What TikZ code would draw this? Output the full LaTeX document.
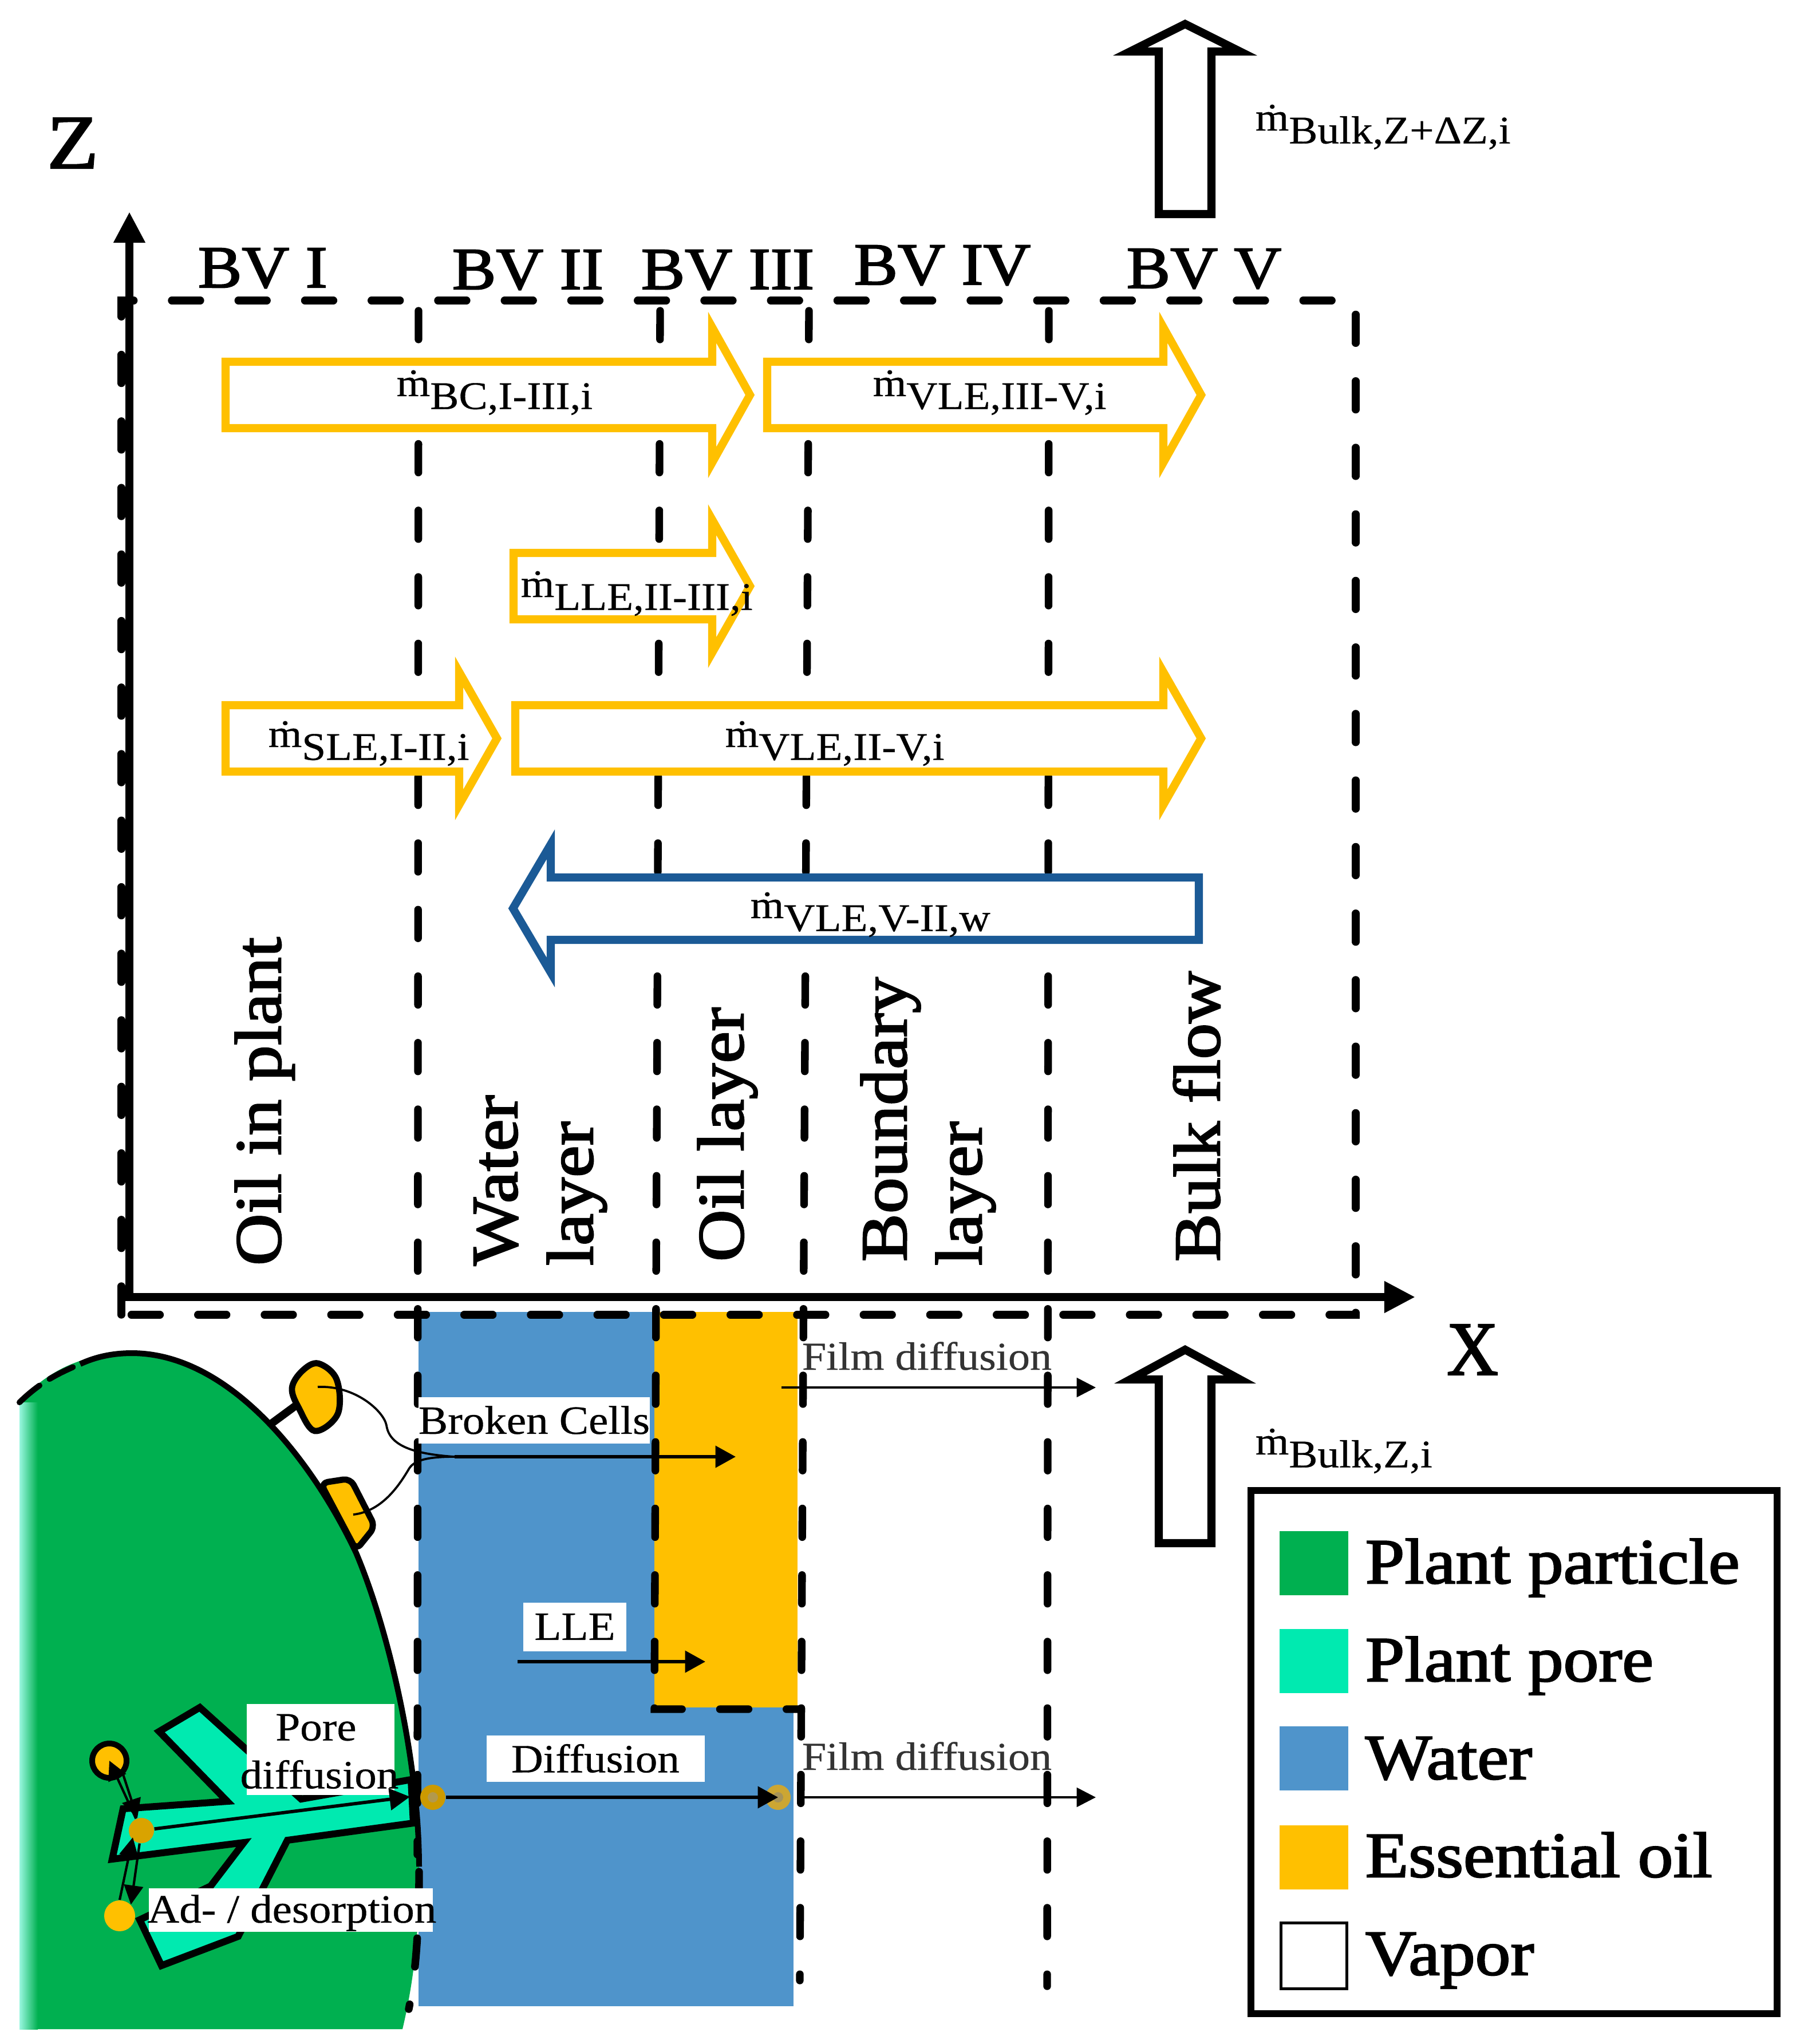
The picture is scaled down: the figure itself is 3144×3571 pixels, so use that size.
\documentclass[tikz,border=0pt]{standalone}
\usepackage{fontspec}
\setmainfont[FakeStretch=1.1,FakeBold=0.5]{Liberation Serif}
\newfontfamily\heavy[FakeStretch=1.1,FakeBold=2.2]{Liberation Serif}
\usetikzlibrary{arrows.meta,calc}
\definecolor{oil}{HTML}{FFC000}
\definecolor{water}{HTML}{4F94CB}
\definecolor{plant}{HTML}{00B050}
\definecolor{pore}{HTML}{00EAB0}
\definecolor{wblue}{HTML}{1B5A96}
\newcommand\mdot[1]{ṁ\lower5.4pt\hbox{#1}}
\tikzset{
  x=0.24pt,y=-0.24pt,
  axisline/.style={line width=3.3pt,-{Triangle[length=13pt,width=12.5pt]}},
  dashbox/.style={line width=3.2pt,line cap=round,dash pattern=on 12pt off 15.9pt,black},
  blockarrow/.style={line width=3.4pt,miter limit=10,fill=white},
  yarrow/.style={blockarrow,draw=oil},
  massflow/.style={anchor=base west,inner sep=0pt,font=\fontsize{16.4}{18}\selectfont},
  bvlabel/.style={anchor=base,inner sep=0pt,font=\heavy\fontsize{25}{28}\selectfont},
  vertlabel/.style={rotate=90,anchor=base west,inner sep=0pt,font=\heavy\fontsize{27.5}{30}\selectfont},
  axisname/.style={inner sep=0pt,font=\heavy\fontsize{32}{34}\selectfont},
  whitebox/.style={fill=white,inner sep=0pt,font=\fontsize{16.8}{18}\selectfont},
  labeltext/.style={inner sep=0pt,font=\fontsize{16.8}{18}\selectfont},
  filmtext/.style={anchor=base west,inner sep=0pt,text=black!80,font=\fontsize{16.6}{18}\selectfont},
  flow/.style={line width=1.4pt,-{Triangle[length=8.5pt,width=9pt]}},
  thinflow/.style={line width=1pt,-{Triangle[length=8pt,width=8pt]}},
  swatch/.style={minimum width=28.8pt,minimum height=27pt,inner sep=0pt},
  legtext/.style={anchor=base west,inner sep=0pt,font=\heavy\fontsize{26.9}{28}\selectfont},
}
\begin{document}
\begin{tikzpicture}
\useasboundingbox (0,0) rectangle (3144,3571);

% water and oil regions
\fill[water] (731,2292) rectangle (1386,3505);
\fill[oil] (1143,2292) rectangle (1393,2983);

% plant particle
\fill[plant] (38,2444) .. controls (90,2390) and (150,2364) .. (230,2364)
  .. controls (400,2364) and (545,2550) .. (622,2713)
  .. controls (680,2850) and (732,3080) .. (732,3261)
  .. controls (732,3350) and (728,3440) .. (703,3545)
  -- (38,3545) -- cycle;
\shade[left color=pore!40!white,right color=plant] (34,2450) rectangle (66,3545);
\fill[plant] (66,2440) rectangle (90,3545);

% glands
\draw[line width=3.3pt] (470,2490) -- (527,2448);
\draw[line width=2.6pt,fill=oil] plot[smooth cycle,tension=0.6] coordinates {(528,2395) (556,2382) (588,2410) (590,2470) (550,2500) (522,2460) (510,2425)};
\draw[line width=2.6pt,fill=oil,rounded corners=3pt,line join=round] (560,2591) -- (612,2583) -- (655,2667) -- (622,2708) -- cycle;

% particle outline
\draw[line width=2.4pt] (140,2383) .. controls (168,2370) and (198,2364) .. (230,2364)
  .. controls (400,2364) and (545,2550) .. (622,2713)
  .. controls (680,2850) and (732,3080) .. (732,3261);
\draw[line width=2.4pt,line cap=round,dash pattern=on 11pt off 5pt] (34,2450) .. controls (70,2415) and (100,2400) .. (140,2383);
\draw[dashbox] (732,3270) .. controls (732,3350) and (728,3440) .. (714,3510);

% pore
\draw[line width=2.9pt,fill=pore,line join=miter] (196,3248) -- (215,3160) -- (397,3147) -- (278,3025) -- (349,2983) -- (526,3143) -- (718,3109) -- (722,3185) -- (502,3215) -- (416,3383) -- (282,3434) -- (244,3354) -- (368,3295) -- (426,3219) -- cycle;

% dashed control volumes
\draw[dashbox] (212,2297) -- (212,525) -- (2368,525) -- (2368,2297) -- (212,2297);
\draw[dashbox] (731,543) -- (729,3240);
\draw[dashbox] (1153,543) -- (1143,2986) -- (1397,2986);
\draw[dashbox] (1413,543) -- (1397,3460);
\draw[dashbox] (1832,543) -- (1829,3470);

% axes
\coordinate (zorigin) at (226,2273);
\coordinate (ztip) at (226,370);
\coordinate (xorigin) at (206,2266);
\coordinate (xtip) at (2472,2266);
\draw[axisline] (zorigin) -- (ztip);
\draw[axisline] (xorigin) -- (xtip);
\node[axisname] (zlabel) at (127,250) {Z};
\node[axisname] (xlabel) at (2572,2358) {\scalebox{0.85}[1]{X}};

% BV headings
\node[bvlabel] (bv1) at (459,502) {BV I};
\node[bvlabel] (bv2) at (922,505) {BV II};
\node[bvlabel] (bv3) at (1271,505) {BV III};
\node[bvlabel] (bv4) at (1646,497) {BV IV};
\node[bvlabel] (bv5) at (2103,503) {BV V};

% block arrows
\draw[yarrow] (394,632) -- (1244,632) -- (1244,572) -- (1310,690) -- (1244,808) -- (1244,748) -- (394,748) -- cycle;
\draw[yarrow] (1340,632) -- (2032,632) -- (2032,572) -- (2098,690) -- (2032,808) -- (2032,748) -- (1340,748) -- cycle;
\draw[yarrow] (897,966) -- (1244,966) -- (1244,908) -- (1310,1024) -- (1244,1140) -- (1244,1082) -- (897,1082) -- cycle;
\draw[yarrow] (394,1232) -- (802,1232) -- (802,1174) -- (868,1290) -- (802,1406) -- (802,1348) -- (394,1348) -- cycle;
\draw[yarrow] (900,1232) -- (2032,1232) -- (2032,1174) -- (2098,1290) -- (2032,1406) -- (2032,1348) -- (900,1348) -- cycle;
\draw[blockarrow,draw=wblue] (2094,1533) -- (962,1533) -- (962,1475) -- (896,1587) -- (962,1699) -- (962,1642) -- (2094,1642) -- cycle;
\draw[blockarrow,draw=black] (2024,374) -- (2024,90) -- (1974,90) -- (2070,42) -- (2166,90) -- (2116,90) -- (2116,374) -- cycle;
\draw[blockarrow,draw=black] (2024,2696) -- (2024,2410) -- (1974,2410) -- (2070,2358) -- (2166,2410) -- (2116,2410) -- (2116,2696) -- cycle;

% mass flows
\node[massflow] (mbc) at (692,692) {\mdot{BC,I-III,i}};
\node[massflow] (mvle3) at (1524,692) {\mdot{VLE,III-V,i}};
\node[massflow] (mlle) at (909,1043) {\mdot{LLE,II-III,i}};
\node[massflow] (msle) at (468,1305) {\mdot{SLE,I-II,i}};
\node[massflow] (mvle2) at (1266,1305) {\mdot{VLE,II-V,i}};
\node[massflow] (mvlew) at (1310,1604) {\mdot{VLE,V-II,w}};
\node[massflow] (mtop) at (2192,228) {\mdot{Bulk,Z+ΔZ,i}};
\node[massflow] (mbot) at (2192,2541) {\mdot{Bulk,Z,i}};

% vertical labels
\node[vertlabel] (v1) at (490,2212) {Oil in plant};
\node[vertlabel] (v2) at (903,2212) {Water};
\node[vertlabel] (v3) at (1035,2212) {layer};
\node[vertlabel] (v4) at (1298,2205) {Oil layer};
\node[vertlabel] (v5) at (1583,2205) {Boundary};
\node[vertlabel] (v6) at (1714,2212) {layer};
\node[vertlabel] (v7) at (2130,2205) {Bulk flow};

% process labels
\node[whitebox,minimum width=392pt*0.24,minimum height=81pt*0.24] (broken) at (933,2481) {Broken Cells};
\node[whitebox,minimum width=180pt*0.24,minimum height=85pt*0.24] (lle) at (1004,2842) {LLE};
\node[whitebox,minimum width=381pt*0.24,minimum height=81pt*0.24] (diff) at (1040,3072) {Diffusion};
\node[fill=white,inner sep=0pt,minimum width=258pt*0.24,minimum height=159pt*0.24] (porebox) at (560,3056) {};
\node[labeltext] (pore1) at (552,3018) {Pore};
\node[labeltext] (pore2) at (558,3100) {diffusion};
\node[fill=white,inner sep=0pt,minimum width=496pt*0.24,minimum height=76pt*0.24] (adsorb) at (508,3337) {};
\node[labeltext] (adtext) at (510,3342) {Ad- / desorption};
\node[filmtext] (film1) at (1400,2393) {Film diffusion};
\node[filmtext] (film2) at (1400,3092) {Film diffusion};

% transport arrows
\coordinate (g1) at (555,2423);
\coordinate (g2) at (617,2646);
\coordinate (merge) at (794,2545);
\coordinate (brokenend) at (1285,2545);
\coordinate (llestart) at (904,2903);
\coordinate (lleend) at (1232,2903);
\coordinate (f1s) at (1365,2424);
\coordinate (f1e) at (1914,2424);
\coordinate (f2s) at (1397,3140);
\coordinate (f2e) at (1914,3140);
\draw[line width=0.9pt] (g1) .. controls (620,2420) and (670,2465) .. (675,2490) .. controls (680,2525) and (720,2540) .. (merge);
\draw[line width=0.9pt] (g2) .. controls (670,2640) and (700,2590) .. (715,2565) .. controls (725,2550) and (750,2545) .. (merge);
\draw[flow] (merge) -- (brokenend);
\draw[flow] (llestart) -- (lleend);
\draw[thinflow] (f1s) -- (f1e);
\draw[thinflow] (f2s) -- (f2e);

% particles of oil
\node[circle,draw=black,line width=2.4pt,fill=oil,minimum size=60*0.24pt,inner sep=0pt] (ads) at (191,3076) {};
\node[circle,fill=oil!85!black,minimum size=44*0.24pt,inner sep=0pt] (pdot) at (247,3198) {};
\node[circle,fill=oil,minimum size=54*0.24pt,inner sep=0pt] (des) at (209,3347) {};
\node[circle,fill=oil!80!black,minimum size=44*0.24pt,inner sep=0pt] (d1) at (756,3140) {};
\node[circle,fill=oil!60!gray,minimum size=44*0.24pt,inner sep=0pt] (d2) at (1359,3140) {};
\fill[gray!60!oil] (d1) circle (9*0.24pt);
\fill[gray!70!oil] (d2) circle (9*0.24pt);
\draw[flow] (pdot) -- (716,3139);
\draw[flow] (d1) -- (d2.center);
\draw[thinflow] (pdot) -- (ads.center);
\draw[thinflow] (215,3100) -- (pdot);
\draw[thinflow] (pdot) -- (des.north east);
\draw[thinflow] (des.north) -- (232,3210);

% legend
\node[draw=black,line width=2.9pt,fill=white,minimum width=919*0.24pt,minimum height=914*0.24pt,inner sep=0pt] (legend) at (2644.5,3061) {};
\node[swatch,fill=plant] (s1) at (2295,2731) {};
\node[swatch,fill=pore] (s2) at (2295,2902) {};
\node[swatch,fill=water] (s3) at (2295,3072) {};
\node[swatch,fill=oil] (s4) at (2295,3245) {};
\node[swatch,draw=black,line width=1.2pt,fill=white,minimum width=27.6pt,minimum height=27.4pt] (s5) at (2295,3417) {};
\node[legtext] (l1) at (2384,2766) {Plant particle};
\node[legtext] (l2) at (2384,2937) {Plant pore};
\node[legtext] (l3) at (2384,3108) {Water};
\node[legtext] (l4) at (2384,3279) {Essential oil};
\node[legtext] (l5) at (2384,3450) {Vapor};
\end{tikzpicture}
\end{document}
